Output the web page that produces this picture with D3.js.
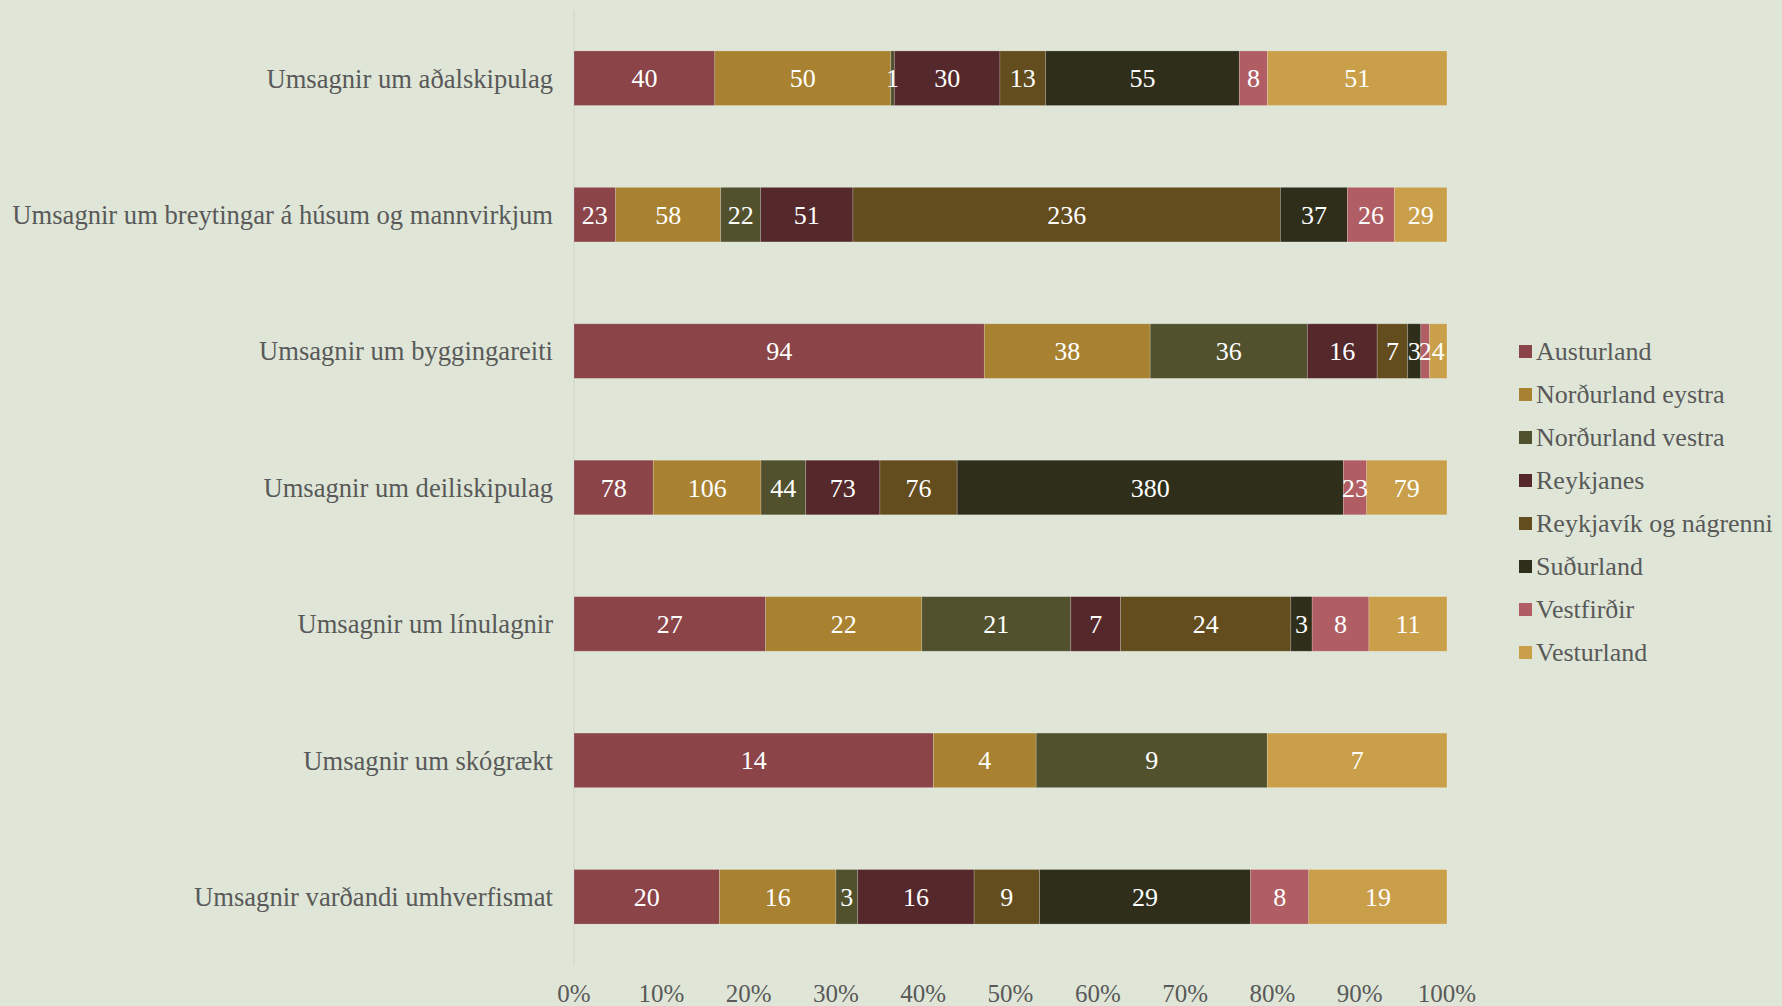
<!DOCTYPE html>
<html>
<head>
<meta charset="utf-8">
<script src="https://cdn.jsdelivr.net/npm/d3@7"></script>
<style>
  body { margin: 0; background: #DFE6D7; }
  text { font-family: "Liberation Serif", "DejaVu Serif", serif; }
</style>
</head>
<body>
<div id="chart"></div>
<script>
// categories (top to bottom)
var categories = [
    "Umsagnir um aðalskipulag",
    "Umsagnir um breytingar á húsum og mannvirkjum",
    "Umsagnir um byggingareiti",
    "Umsagnir um deiliskipulag",
    "Umsagnir um línulagnir",
    "Umsagnir um skógrækt",
    "Umsagnir varðandi umhverfismat"
];

var regions = [
    "Austurland",
    "Norðurland eystra",
    "Norðurland vestra",
    "Reykjanes",
    "Reykjavík og nágrenni",
    "Suðurland",
    "Vestfirðir",
    "Vesturland"
];

var colors = ["#8B4549", "#A88231", "#52512E", "#55292C", "#634D1F", "#2E2E1A", "#B05E63", "#C99F4A"];

// counts per category, in region order
var austurland     = [40, 23, 94, 78, 27, 14, 20];
var nordEystra     = [50, 58, 38, 106, 22, 4, 16];
var nordVestra     = [1, 22, 36, 44, 21, 9, 3];
var reykjanes      = [30, 51, 16, 73, 7, 0, 16];
var reykjavik      = [13, 236, 7, 76, 24, 0, 9];
var sudurland      = [55, 37, 3, 380, 3, 0, 29];
var vestfirdir     = [8, 26, 2, 23, 8, 0, 8];
var vesturland     = [51, 29, 4, 79, 11, 7, 19];

var xTicks = [0, 0.1, 0.2, 0.3, 0.4, 0.5, 0.6, 0.7, 0.8, 0.9, 1.0];

var series = [austurland, nordEystra, nordVestra, reykjanes, reykjavik, sudurland, vestfirdir, vesturland];

var table = categories.map(function(c, i) {
    var row = { category: c };
    regions.forEach(function(r, j) { row[r] = series[j][i]; });
    return row;
});

var W = 1782, H = 1006;
var plotLeft = 574, plotRight = 1447, plotTop = 10, plotBottom = 965;

var svg = d3.select("#chart").append("svg")
    .attr("width", W)
    .attr("height", H);

svg.append("rect").attr("width", W).attr("height", H).attr("fill", "#DFE6D7");

var x = d3.scaleLinear().domain([0, 1]).range([plotLeft, plotRight]);
var y = d3.scaleBand().domain(categories).range([plotTop, plotBottom])
    .paddingInner(0.6).paddingOuter(0.3);
var color = d3.scaleOrdinal().domain(regions).range(colors);

var stacked = d3.stack().keys(regions).offset(d3.stackOffsetExpand)(table);

// axis line
svg.append("line")
    .attr("x1", x(0)).attr("x2", x(0))
    .attr("y1", plotTop).attr("y2", plotBottom)
    .attr("stroke", "#D0D0D0").attr("stroke-width", 1);

var groups = svg.selectAll(".series")
    .data(stacked)
    .enter().append("g")
    .attr("class", "series")
    .attr("fill", function(d) { return color(d.key); });

groups.selectAll("rect")
    .data(function(d) { return d; })
    .enter().append("rect")
    .attr("x", function(d) { return x(d[0]); })
    .attr("y", function(d) { return y(d.data.category); })
    .attr("width", function(d) { return x(d[1]) - x(d[0]); })
    .attr("height", y.bandwidth())
    .attr("stroke", "rgba(255,255,255,0.25)")
    .attr("stroke-width", 0.75);

// value labels
stacked.forEach(function(s) {
    svg.append("g").selectAll("text")
        .data(s.filter(function(d) { return d.data[s.key] > 0; }))
        .enter().append("text")
        .attr("x", function(d) { return (x(d[0]) + x(d[1])) / 2; })
        .attr("y", function(d) { return y(d.data.category) + y.bandwidth() / 2; })
        .attr("dy", "0.35em")
        .attr("text-anchor", "middle")
        .attr("fill", "#FFFFFF")
        .style("font-size", "26px")
        .text(function(d) { return d.data[s.key]; });
});

// category labels
svg.append("g").selectAll("text")
    .data(categories)
    .enter().append("text")
    .attr("x", 553)
    .attr("y", function(d) { return y(d) + y.bandwidth() / 2; })
    .attr("dy", "0.35em")
    .attr("text-anchor", "end")
    .attr("fill", "#595959")
    .style("font-size", "26.6px")
    .text(function(d) { return d; });

// x tick labels
svg.append("g").selectAll("text")
    .data(xTicks)
    .enter().append("text")
    .attr("x", function(d) { return x(d); })
    .attr("y", 993)
    .attr("dy", "0.35em")
    .attr("text-anchor", "middle")
    .attr("fill", "#595959")
    .style("font-size", "25px")
    .text(function(d) { return d3.format(".0%")(d); });

// legend
var legend = svg.append("g").selectAll("g")
    .data(regions)
    .enter().append("g")
    .attr("transform", function(d, i) { return "translate(1519," + (351 + i * 43) + ")"; });

legend.append("rect")
    .attr("x", 0).attr("y", -6)
    .attr("width", 13).attr("height", 13)
    .attr("fill", function(d) { return color(d); });

legend.append("text")
    .attr("x", 17)
    .attr("dy", "0.35em")
    .attr("fill", "#595959")
    .style("font-size", "26px")
    .text(function(d) { return d; });
</script>
</body>
</html>
